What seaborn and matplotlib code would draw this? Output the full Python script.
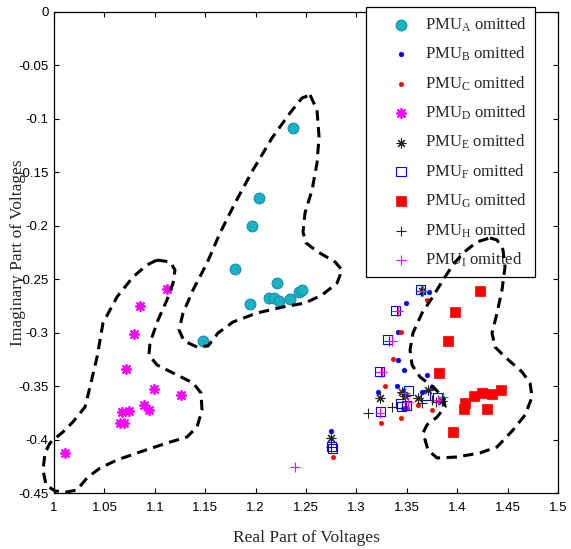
import numpy as np
import matplotlib
matplotlib.use("Agg")
import matplotlib.pyplot as plt
import seaborn as sns

# --- data ---
pmu_a_x = [1.2368, 1.2031, 1.1968, 1.1799, 1.2209, 1.1948, 1.2136, 1.2186, 1.2232, 1.2338, 1.2431, 1.2464, 1.1475]
pmu_a_y = [-0.1089, -0.1740, -0.1999, -0.2401, -0.2532, -0.2734, -0.2678, -0.2675, -0.2706, -0.2681, -0.2622, -0.2603, -0.3080]

pmu_b_x = [1.3723, 1.3492, 1.3416, 1.3410, 1.3475, 1.3703, 1.3747, 1.3400, 1.3211, 1.3648, 1.2748]
pmu_b_y = [-0.2616, -0.2724, -0.2990, -0.3254, -0.3348, -0.3397, -0.3503, -0.3494, -0.3550, -0.3550, -0.3915]

pmu_c_x = [1.3703, 1.3442, 1.3360, 1.3284, 1.3244, 1.3442, 1.3466, 1.3505, 1.3614, 1.3747, 1.2771]
pmu_c_y = [-0.2697, -0.2990, -0.3245, -0.3497, -0.3846, -0.3799, -0.3706, -0.3706, -0.3675, -0.3721, -0.4164]

pmu_d_x = [1.1118, 1.0856, 1.0790, 1.0711, 1.0995, 1.1263, 1.0896, 1.0942, 1.0747, 1.0675, 1.0652, 1.0694, 1.0112]
pmu_d_y = [-0.2588, -0.2750, -0.3014, -0.3341, -0.3522, -0.3578, -0.3672, -0.3724, -0.3731, -0.3743, -0.3846, -0.3846, -0.4126]

pmu_e_x = [1.3650, 1.3234, 1.3449, 1.3614, 1.3714, 1.3480, 1.3850, 1.2748]
pmu_e_y = [-0.2610, -0.3612, -0.3550, -0.3612, -0.3535, -0.3590, -0.3640, -0.3986]

pmu_f_x = [1.3631, 1.3383, 1.3307, 1.3224, 1.3515, 1.3234, 1.3433, 1.3449, 1.3499, 1.3681, 1.3803, 1.2748, 1.2760]
pmu_f_y = [-0.2600, -0.2796, -0.3067, -0.3363, -0.3541, -0.3737, -0.3659, -0.3690, -0.3684, -0.3590, -0.3606, -0.4064, -0.4080]

pmu_g_x = [1.4226, 1.3978, 1.3912, 1.3819, 1.4435, 1.4348, 1.4249, 1.4167, 1.4077, 1.4064, 1.4299, 1.3962]
pmu_g_y = [-0.2609, -0.2807, -0.3077, -0.3373, -0.3535, -0.3572, -0.3560, -0.3588, -0.3659, -0.3712, -0.3709, -0.3927]

pmu_h_x = [1.3641, 1.3400, 1.3320, 1.3240, 1.3350, 1.3118, 1.3648, 1.3747, 1.3460, 1.3790, 1.2748]
pmu_h_y = [-0.2610, -0.2800, -0.3075, -0.3370, -0.3690, -0.3747, -0.3659, -0.3628, -0.3560, -0.3650, -0.4064]

pmu_i_x = [1.3664, 1.3410, 1.3350, 1.3251, 1.3234, 1.3515, 1.3862, 1.3813, 1.3480, 1.2391]
pmu_i_y = [-0.2607, -0.2796, -0.3074, -0.3369, -0.3747, -0.3644, -0.3597, -0.3628, -0.3560, -0.4257]

# dashed outlines drawn around the groups
loop_d = [(1.1022, -0.2320), (1.1151, -0.2338), (1.1200, -0.2413), (1.1181, -0.2535), (1.1121, -0.2693),
          (1.1032, -0.2880), (1.0952, -0.3095), (1.0942, -0.3207), (1.1022, -0.3301), (1.1181, -0.3376),
          (1.1379, -0.3469), (1.1458, -0.3562), (1.1468, -0.3721), (1.1419, -0.3880), (1.1319, -0.3974),
          (1.1121, -0.4030), (1.0853, -0.4114), (1.0625, -0.4189), (1.0456, -0.4264), (1.0327, -0.4357),
          (1.0228, -0.4469), (1.0129, -0.4488), (1.0010, -0.4479), (0.9921, -0.4423), (0.9891, -0.4282),
          (0.9911, -0.4123), (0.9960, -0.4030), (1.0030, -0.3973), (1.0089, -0.3927), (1.0188, -0.3833),
          (1.0308, -0.3693), (1.0357, -0.3506), (1.0427, -0.3226), (1.0486, -0.2908), (1.0625, -0.2665),
          (1.0784, -0.2478), (1.0923, -0.2366), (1.1022, -0.2320)]
loop_a = [(1.2540, -0.0778), (1.2609, -0.0918), (1.2629, -0.1170), (1.2609, -0.1413), (1.2560, -0.1665),
          (1.2490, -0.1880), (1.2470, -0.2058), (1.2500, -0.2161), (1.2619, -0.2245), (1.2788, -0.2338),
          (1.2857, -0.2413), (1.2808, -0.2535), (1.2659, -0.2647), (1.2490, -0.2722), (1.2272, -0.2759),
          (1.2014, -0.2815), (1.1776, -0.2899), (1.1627, -0.3002), (1.1528, -0.3123), (1.1419, -0.3133),
          (1.1290, -0.3077), (1.1240, -0.2974), (1.1280, -0.2815), (1.1379, -0.2600), (1.1518, -0.2348),
          (1.1647, -0.2067), (1.1796, -0.1787), (1.1974, -0.1478), (1.2163, -0.1179), (1.2341, -0.0946),
          (1.2460, -0.0806), (1.2540, -0.0778)]
loop_g = [(1.4325, -0.2114), (1.4395, -0.2133), (1.4454, -0.2226), (1.4474, -0.2385), (1.4444, -0.2600),
          (1.4395, -0.2815), (1.4345, -0.3002), (1.4375, -0.3133), (1.4474, -0.3226), (1.4643, -0.3366),
          (1.4722, -0.3469), (1.4742, -0.3600), (1.4673, -0.3768), (1.4554, -0.3908), (1.4395, -0.4067),
          (1.4226, -0.4123), (1.3998, -0.4161), (1.3800, -0.4170), (1.3710, -0.4095), (1.3661, -0.3936),
          (1.3700, -0.3861), (1.3800, -0.3787), (1.3879, -0.3693), (1.3859, -0.3600), (1.3760, -0.3506),
          (1.3631, -0.3413), (1.3552, -0.3301), (1.3532, -0.3160), (1.3561, -0.3002), (1.3651, -0.2815),
          (1.3750, -0.2675), (1.3859, -0.2507), (1.3958, -0.2366), (1.4058, -0.2254), (1.4196, -0.2151),
          (1.4325, -0.2114)]

x_ticks = [1, 1.05, 1.1, 1.15, 1.2, 1.25, 1.3, 1.35, 1.4, 1.45, 1.5]
x_tick_labels = ["1", "1.05", "1.1", "1.15", "1.2", "1.25", "1.3", "1.35", "1.4", "1.45", "1.5"]
y_ticks = [0, -0.05, -0.1, -0.15, -0.2, -0.25, -0.3, -0.35, -0.4, -0.45]
y_tick_labels = ["0", "-0.05", "-0.1", "-0.15", "-0.2", "-0.25", "-0.3", "-0.35", "-0.4", "-0.45"]

sns.set_style("ticks")
plt.rcParams["font.family"] = ["Liberation Sans", "DejaVu Sans"]
plt.rcParams["mathtext.fontset"] = "custom"
plt.rcParams["mathtext.rm"] = "Liberation Serif"
plt.rcParams["mathtext.it"] = "Liberation Serif:italic"

fig = plt.figure(figsize=(5.71, 5.49), dpi=100)
ax = fig.add_axes([0.0946, 0.1015, 0.8827, 0.8771])

asterisk = (8, 2, 0)
sns.scatterplot(x=pmu_a_x, y=pmu_a_y, ax=ax, marker="o", s=60, color="#17B3C3",
                edgecolor="#1A8CB5", linewidth=0.8, label=r"PMU$_\mathrm{A}$ omitted", zorder=3)
sns.scatterplot(x=pmu_b_x, y=pmu_b_y, ax=ax, marker="o", s=12, color="#0000FF",
                edgecolor="#0000FF", linewidth=0.3, label=r"PMU$_\mathrm{B}$ omitted", zorder=3)
sns.scatterplot(x=pmu_c_x, y=pmu_c_y, ax=ax, marker="o", s=11, color="#FF0000",
                edgecolor="#FF0000", linewidth=0.3, label=r"PMU$_\mathrm{C}$ omitted", zorder=3)
sns.scatterplot(x=pmu_d_x, y=pmu_d_y, ax=ax, marker=asterisk, s=45, color="#FF00FF",
                linewidth=1.3, label=r"PMU$_\mathrm{D}$ omitted", zorder=3)
sns.scatterplot(x=pmu_e_x, y=pmu_e_y, ax=ax, marker=asterisk, s=42, color="#222222",
                linewidth=0.8, label=r"PMU$_\mathrm{E}$ omitted", zorder=3)
sns.scatterplot(x=pmu_f_x, y=pmu_f_y, ax=ax, marker="s", s=42, color="#0000FF", facecolor="none",
                edgecolor="#0000FF", linewidth=0.8, label=r"PMU$_\mathrm{F}$ omitted", zorder=3)
sns.scatterplot(x=pmu_g_x, y=pmu_g_y, ax=ax, marker="s", s=48, color="#FF0000",
                edgecolor="#FF0000", linewidth=0.5, label=r"PMU$_\mathrm{G}$ omitted", zorder=3)
sns.scatterplot(x=pmu_h_x, y=pmu_h_y, ax=ax, marker="+", s=52, color="#222222",
                linewidth=0.8, label=r"PMU$_\mathrm{H}$ omitted", zorder=3)
sns.scatterplot(x=pmu_i_x, y=pmu_i_y, ax=ax, marker="+", s=52, color="#FF00FF",
                linewidth=0.8, label=r"PMU$_\mathrm{I}$ omitted", zorder=3)

for loop in (loop_d, loop_a, loop_g):
    lx, ly = zip(*loop)
    ax.plot(lx, ly, color="black", lw=2.2, ls=(0, (3.4, 2.1)), clip_on=False, zorder=6)

ax.set_xlim(1, 1.5)
ax.set_ylim(-0.45, 0)
ax.set_xticks(x_ticks)
ax.set_xticklabels(x_tick_labels)
ax.set_yticks(y_ticks)
ax.set_yticklabels(y_tick_labels)
ax.tick_params(direction="in", top=True, right=True, length=3.5, width=0.8,
               labelsize=9.5, colors="black")
ax.tick_params(axis="x", pad=6)
ax.tick_params(axis="y", pad=4)
for side in ax.spines.values():
    side.set_visible(True)
    side.set_linewidth(0.9)
    side.set_color("black")

ax.set_xlabel("Real Part of Voltages", fontfamily="Liberation Serif", fontsize=12.5)
ax.set_ylabel("Imaginary Part of Voltages", fontfamily="Liberation Serif", fontsize=12.5)
ax.xaxis.set_label_coords(0.5, -0.076)
ax.yaxis.set_label_coords(-0.055, 0.5)

leg = ax.legend(loc="upper left", bbox_to_anchor=(366 / 571, 1 - 7 / 549), bbox_transform=fig.transFigure,
                borderaxespad=0, frameon=True, fancybox=False, shadow=False, framealpha=1,
                edgecolor="black", scatterpoints=1, handlelength=3.2, handletextpad=-0.15,
                borderpad=0.5, labelspacing=0.66,
                prop={"family": "Liberation Serif", "size": 12})
leg.get_frame().set_linewidth(0.9)
leg.set_zorder(5)

fig.savefig("out.png", dpi=100)
